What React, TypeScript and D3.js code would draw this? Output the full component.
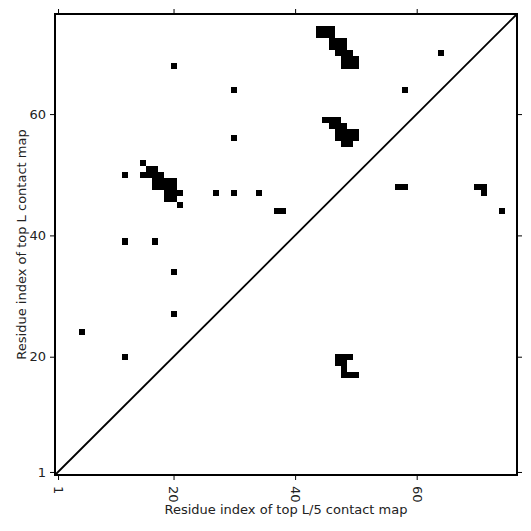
import React, { useEffect, useRef } from "react";
import * as d3 from "d3";

// contact map, residues 1..76, cells given as [i, j]
const nRes = 76;
const tickVals = [1, 20, 40, 60];
const xLabel = "Residue index of top L/5 contact map";
const yLabel = "Residue index of top L contact map";

// above the diagonal
const topLContacts: [number, number][] = [
  [5, 24], [12, 20], [20, 27], [20, 34], [12, 39], [17, 39], [12, 50],
  [15, 52], [16, 51], [17, 51],
  [15, 50], [16, 50], [17, 50], [18, 50],
  [17, 49], [18, 49], [19, 49], [20, 49],
  [17, 48], [18, 48], [19, 48], [20, 48],
  [19, 47], [20, 47], [21, 47], [19, 46], [20, 46], [21, 45],
  [27, 47], [30, 47], [34, 47], [37, 44], [38, 44],
  [30, 56], [30, 64], [20, 68], [58, 64], [64, 70],
  [44, 74], [45, 74], [46, 74], [44, 73], [45, 73], [46, 73],
  [46, 72], [47, 72], [48, 72], [46, 71], [47, 71], [48, 71],
  [47, 70], [48, 70], [49, 70],
  [48, 69], [49, 69], [50, 69], [48, 68], [49, 68], [50, 68],
  [45, 59], [46, 59], [47, 59], [46, 58], [47, 58], [48, 58],
  [47, 57], [48, 57], [49, 57], [50, 57],
  [47, 56], [48, 56], [49, 56], [50, 56],
  [48, 55], [49, 55],
];

// below the diagonal
const topL5Contacts: [number, number][] = [
  [57, 48], [58, 48], [70, 48], [71, 48], [71, 47], [74, 44],
  [47, 20], [48, 20], [49, 20], [47, 19], [48, 19], [48, 18],
  [48, 17], [49, 17], [50, 17],
];

const W = 531, H = 531;
const margin = { top: 14, right: 14, bottom: 56, left: 55 };

export default function App() {
  const ref = useRef<SVGSVGElement>(null);

  useEffect(() => {
    const svg = d3.select(ref.current);
    svg.selectAll("*").remove();

    const x = d3.scaleLinear().domain([0.5, nRes + 0.5]).range([margin.left, W - margin.right]);
    const y = d3.scaleLinear().domain([0.5, nRes + 0.5]).range([H - margin.bottom, margin.top]);

    const cells = topLContacts.concat(topL5Contacts);
    svg.append("g")
      .selectAll("rect")
      .data(cells)
      .join("rect")
      .attr("x", d => x(d[0] - 0.5))
      .attr("y", d => y(d[1] + 0.5))
      .attr("width", d => x(d[0] + 0.5) - x(d[0] - 0.5))
      .attr("height", d => y(d[1] - 0.5) - y(d[1] + 0.5))
      .attr("fill", "#000")
      .attr("shape-rendering", "crispEdges");

    svg.append("line")
      .attr("x1", x(0.5)).attr("y1", y(0.5))
      .attr("x2", x(nRes + 0.5)).attr("y2", y(nRes + 0.5))
      .attr("stroke", "#000")
      .attr("stroke-width", 1.8);

    const font = "DejaVu Sans, sans-serif";
    const styleAxis = (g: any) => {
      g.select(".domain").remove();
      g.selectAll("line").attr("stroke", "#000").attr("stroke-width", 1);
      g.selectAll("text").attr("font-family", font).attr("font-size", 13).attr("fill", "#222");
    };

    const bottom = svg.append("g")
      .attr("transform", "translate(0," + (H - margin.bottom) + ")")
      .call(d3.axisBottom(x).tickValues(tickVals).tickSize(5).tickPadding(4).tickFormat(d3.format("d")))
      .call(styleAxis);
    bottom.selectAll("text")
      .attr("transform", "rotate(90)")
      .attr("text-anchor", "start")
      .attr("x", 11)
      .attr("y", 0)
      .attr("dy", "0.35em");

    svg.append("g")
      .attr("transform", "translate(0," + margin.top + ")")
      .call(d3.axisTop(x).tickValues(tickVals).tickSize(5).tickFormat(() => ""))
      .call(styleAxis);

    svg.append("g")
      .attr("transform", "translate(" + margin.left + ",0)")
      .call(d3.axisLeft(y).tickValues(tickVals).tickSize(5).tickPadding(4).tickFormat(d3.format("d")))
      .call(styleAxis);

    svg.append("g")
      .attr("transform", "translate(" + (W - margin.right) + ",0)")
      .call(d3.axisRight(y).tickValues(tickVals).tickSize(5).tickFormat(() => ""))
      .call(styleAxis);

    svg.append("rect")
      .attr("x", margin.left).attr("y", margin.top)
      .attr("width", W - margin.left - margin.right)
      .attr("height", H - margin.top - margin.bottom)
      .attr("fill", "none")
      .attr("stroke", "#000")
      .attr("stroke-width", 2);

    svg.append("text")
      .attr("x", (margin.left + W - margin.right) / 2)
      .attr("y", 514)
      .attr("text-anchor", "middle")
      .attr("font-family", font)
      .attr("font-size", 13)
      .attr("fill", "#222")
      .text(xLabel);

    svg.append("text")
      .attr("transform", "translate(26," + (margin.top + H - margin.bottom) / 2 + ") rotate(-90)")
      .attr("text-anchor", "middle")
      .attr("font-family", font)
      .attr("font-size", 13)
      .attr("fill", "#222")
      .text(yLabel);
  }, []);

  return (
    <svg ref={ref} width={W} height={H}
      style={{ position: "absolute", left: 0, top: 0, background: "#fff" }} />
  );
}
